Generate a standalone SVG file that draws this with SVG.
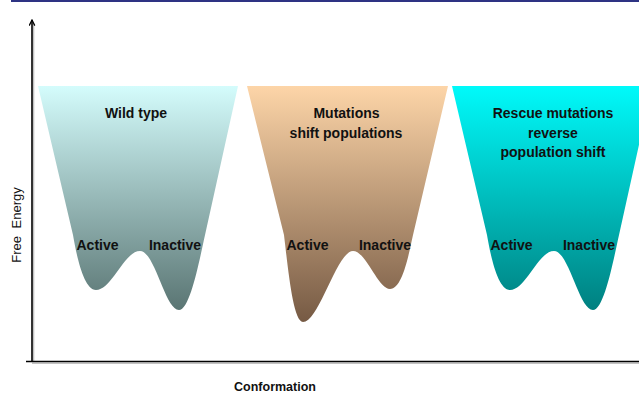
<svg xmlns="http://www.w3.org/2000/svg" xmlns:xlink="http://www.w3.org/1999/xlink" width="639" height="394" viewBox="0 0 639 394">
  <style>
    .lbl { font-family: "Liberation Sans", Arial, sans-serif; font-weight: bold; font-size: 14px; fill: #111; text-anchor: middle; }
    .axis { stroke: #000; stroke-width: 1.6; fill: none; }
    .axis-shadow { stroke: #999; stroke-width: 1.6; fill: none; opacity: 0.6; }
  </style>
  <defs>
    <linearGradient id="gWild" x1="0" y1="0" x2="0" y2="1">
      <stop offset="0" stop-color="#d4fcfc"/>
      <stop offset="1" stop-color="#5a7573"/>
    </linearGradient>
    <linearGradient id="gMut" x1="0" y1="0" x2="0" y2="1">
      <stop offset="0" stop-color="#fdd5a8"/>
      <stop offset="1" stop-color="#765a44"/>
    </linearGradient>
    <linearGradient id="gRescue" x1="0" y1="0" x2="0" y2="1">
      <stop offset="0" stop-color="#00fafa"/>
      <stop offset="1" stop-color="#008080"/>
    </linearGradient>
    <!-- well shape with shallow active and deep inactive minimum -->
    <path id="wellA" d="M38,86 L238,86 L205,235 C199,262 190,310 179,310 C165,310 155,251 140,251 C124,251 112,290 96,290 C84,290 77,258 73,235 Z"/>
    <marker id="arrow" viewBox="0 0 10 10" refX="9" refY="5" markerWidth="7" markerHeight="7" orient="auto-start-reverse" markerUnits="userSpaceOnUse">
      <path d="M1,1 L9,5 L1,9" fill="none" stroke="#000" stroke-width="1.8"/>
    </marker>
  </defs>

  <!-- top rule -->
  <rect x="11" y="0" width="628" height="2" fill="#2e3383"/>

  <!-- axes -->
  <g id="connectors">
    <path class="axis-shadow" d="M33.5,362 L33.5,24 M32,363.3 L639,363.3"/>
    <path class="axis" d="M32,361.5 L32,20" marker-end="url(#arrow)"/>
    <path class="axis" d="M26,361.5 L639,361.5"/>
  </g>

  <g id="wild-type">
    <use xlink:href="#wellA" fill="url(#gWild)"/>
    <text class="lbl" x="136" y="118">Wild type</text>
    <text class="lbl" x="97.5" y="250">Active</text>
    <text class="lbl" x="175" y="250">Inactive</text>
  </g>

  <g id="mutations">
    <path fill="url(#gMut)" d="M247,86 L448,86 L413,235 C408,258 402,289 390,289 C378,289 366,251 353,251 C337,251 319,322 303,322 C293,322 288,268 284,235 Z"/>
    <text class="lbl" x="346.5" y="118">Mutations</text>
    <text class="lbl" x="346" y="138">shift populations</text>
    <text class="lbl" x="307.5" y="250">Active</text>
    <text class="lbl" x="385" y="250">Inactive</text>
  </g>

  <g id="rescue">
    <use xlink:href="#wellA" fill="url(#gRescue)" transform="translate(414,0)"/>
    <text class="lbl" x="553" y="118">Rescue mutations</text>
    <text class="lbl" x="553" y="137.5">reverse</text>
    <text class="lbl" x="553" y="157">population shift</text>
    <text class="lbl" x="511.5" y="250">Active</text>
    <text class="lbl" x="589" y="250">Inactive</text>
  </g>

  <!-- axis titles -->
  <text x="0" y="0" transform="translate(21,225) rotate(-90)" font-family="Liberation Sans, Arial, sans-serif" font-size="13" fill="#111" text-anchor="middle" word-spacing="4">Free Energy</text>
  <text x="275" y="391" font-family="Liberation Sans, Arial, sans-serif" font-weight="bold" font-size="12.5" fill="#111" text-anchor="middle">Conformation</text>
</svg>
